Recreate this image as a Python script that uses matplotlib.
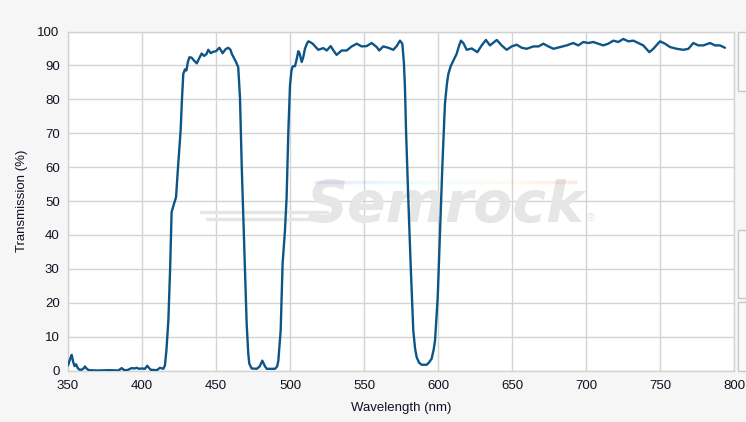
import matplotlib
matplotlib.use("Agg")
import matplotlib.pyplot as plt
from matplotlib.patches import Rectangle
import numpy as np

wavelength = [350, 351.5, 352.5, 353.5, 354.5, 355.5, 356.5, 357.5, 359, 360.5, 361.5, 362.5, 364, 370, 378, 384,
              386.3, 388, 390, 393, 395, 396.4, 398, 399.8, 402, 403.6, 405, 406, 410, 412.2, 414.4, 415.5,
              416.5, 417.8, 419, 420, 421.5, 423, 424.5, 426.1, 427, 427.9, 429, 430, 431, 432, 433.5, 435,
              437, 438.5, 440.3, 442, 443.5, 444.8, 446.5, 448, 450, 452.3, 454.5, 456.5, 458.3, 459.8, 460.6,
              462, 463.5, 465, 466.2, 467.4, 468.5, 469.5, 470.7, 471.8, 472.5, 474.1, 477.5, 479.5, 481.3,
              483, 484.3, 489.9, 491.3, 492.1, 493.7, 495, 496.6, 497.7, 498.9, 500, 501, 501.8, 503.4, 504.6,
              505.6, 506.5, 507.9, 509, 510.1, 511.5, 512.4, 513.5, 515.3, 517, 519.1, 522.5, 524.8, 527.5,
              529.5, 531.5, 534.9, 538.3, 541.7, 545.1, 548.4, 551.8, 555.2, 558.6, 560.3, 563, 566.4, 569.8,
              572.1, 574.3, 575.9, 577, 577.7, 578.4, 579.9, 581.5, 583.3, 584.5, 585.6, 587.2, 589, 592.4,
              594, 595.7, 597, 598, 599.8, 601.4, 603, 604.7, 606, 607, 608.6, 610.4, 612.6, 614, 615.5,
              617.1, 619.4, 622.8, 626.6, 629.5, 632.4, 635.1, 639.7, 643, 646.4, 649.8, 653.2, 656.6, 659.9,
              664.5, 667.9, 671.2, 674.6, 678, 682.4, 686.9, 691.4, 694.8, 698.2, 701.6, 704.9, 708.3, 711.7,
              715, 718.5, 721.8, 725.2, 728.6, 732, 735.4, 738.7, 742.8, 745.5, 750, 753.4, 756.8, 761.3,
              765.8, 769.2, 772.5, 775.9, 779.3, 783.8, 787.2, 790.5, 793.9]
transmission = [1.5, 3.5, 4.6, 2.5, 1.3, 1.8, 0.8, 0.3, 0.2, 0.6, 1.2, 0.6, 0.1, 0.0, 0.1, 0.0,
                0.7, 0.1, 0.1, 0.7, 0.6, 0.8, 0.5, 0.6, 0.5, 1.4, 0.6, 0.2, 0.1, 0.8, 0.5, 1.5,
                6, 14.7, 30, 46.7, 49, 51.1, 61, 70.8, 80, 87.5, 88.8, 88.5, 91, 92.4, 92.3, 91.5,
                90.6, 92, 93.5, 92.8, 93.3, 94.6, 93.6, 94, 94.2, 95.2, 93.6, 94.8, 95.2, 94.6, 93.5,
                92.3, 91, 89.5, 80.6, 60, 45, 31.5, 14, 5, 2, 0.6, 0.5, 1.2, 2.9,
                1.3, 0.5, 0.5, 1.2, 2.8, 11.8, 31.5, 41.3, 51, 70.8, 84, 88.5, 89.7, 89.8, 92,
                94.2, 93.5, 91, 92.5, 94.9, 96.5, 97.1, 96.9, 96.4, 95.6, 94.6, 95.1, 94.4, 95.7,
                94.3, 93.1, 94.4, 94.4, 95.6, 96.4, 95.6, 95.7, 96.6, 95.4, 94.4, 95.6, 95.2, 94.6,
                95.7, 97.3, 96.4, 90.5, 83, 70.8, 51, 31.5, 11.8, 6.5, 3.9, 2.3, 1.7, 1.7,
                2.4, 3.5, 6, 8.8, 21.6, 41.3, 61, 78.7, 84.5, 87.5, 89.8, 91.4, 93.4, 95.5, 97.3,
                96.6, 94.6, 95, 93.9, 95.9, 97.5, 95.9, 97.5, 95.9, 94.6, 95.6, 96.1, 95.2, 94.9,
                95.6, 95.6, 96.4, 95.6, 94.9, 95.4, 95.9, 96.6, 95.9, 96.9, 96.6, 96.9, 96.4, 95.9,
                96.4, 97.3, 96.9, 97.8, 97.1, 97.3, 96.6, 95.9, 93.9, 94.9, 97.1, 96.4, 95.4, 94.9,
                94.6, 94.9, 96.6, 95.9, 95.9, 96.6, 95.9, 95.9, 95.2]

x_ticks = [350, 400, 450, 500, 550, 600, 650, 700, 750, 800]
y_ticks = [0, 10, 20, 30, 40, 50, 60, 70, 80, 90, 100]
x_label = "Wavelength (nm)"
y_label = "Transmission (%)"

plt.rcParams['font.family'] = ['Liberation Sans', 'DejaVu Sans']

W, H = 746, 422
fig = plt.figure(figsize=(W / 100, H / 100), dpi=100, facecolor='#f6f6f6')
ax = fig.add_axes([68 / W, 1 - 370.5 / H, (734 - 68) / W, (370.5 - 31.5) / H])
ax.set_facecolor('white')

ax.set_xlim(350, 800)
ax.set_ylim(0, 100)
ax.set_xticks(x_ticks)
ax.set_yticks(y_ticks)
ax.grid(True, color='#d3d3d3', linewidth=1.0, zorder=0)
ax.set_axisbelow(True)
for s in ax.spines.values():
    s.set_color('#d3d3d3')
    s.set_linewidth(1.0)
ax.tick_params(length=0, labelsize=9.5, colors='#111122', pad=6)
ax.tick_params(axis='x', pad=7)

# watermark
ax.text(605, 48.5, "Semrock", ha='center', va='center', fontsize=41, fontweight='heavy',
        fontstyle='italic', family='DejaVu Sans', color='#e6e6e6', zorder=1)
ax.text(703, 45, "®", ha='center', va='center', fontsize=8, color='#e4e4e4', zorder=1)
ax.plot([440, 525], [46.8, 46.8], color='#e6e6e6', lw=2.5, zorder=1, solid_capstyle='round')
ax.plot([444, 525], [44.6, 44.6], color='#e6e6e6', lw=2.5, zorder=1, solid_capstyle='round')
cmap = plt.get_cmap('rainbow')
xs = np.linspace(516, 694, 80)
for i in range(len(xs) - 1):
    ax.plot(xs[i:i + 2], [55.5, 55.5], color=cmap(i / len(xs)), alpha=0.09, lw=2.5, zorder=1,
            solid_capstyle='butt')

ax.plot(wavelength, transmission, color='#0d5587', linewidth=1.7, zorder=3,
        solid_joinstyle='round', solid_capstyle='round')

ax.set_xlabel(x_label, fontsize=9.5, color='#111122', labelpad=7)
ax.set_ylabel(y_label, fontsize=9.5, color='#111122', labelpad=7)

# side panels
for (y0, y1) in [(32, 91), (230, 298), (302, 371)]:
    fig.patches.append(Rectangle((738, H - y1), 20, y1 - y0, transform=None,
                                 facecolor='#fafafa', edgecolor='#c8c8c8', lw=1))

fig.savefig("out.png", dpi=100, facecolor=fig.get_facecolor())
